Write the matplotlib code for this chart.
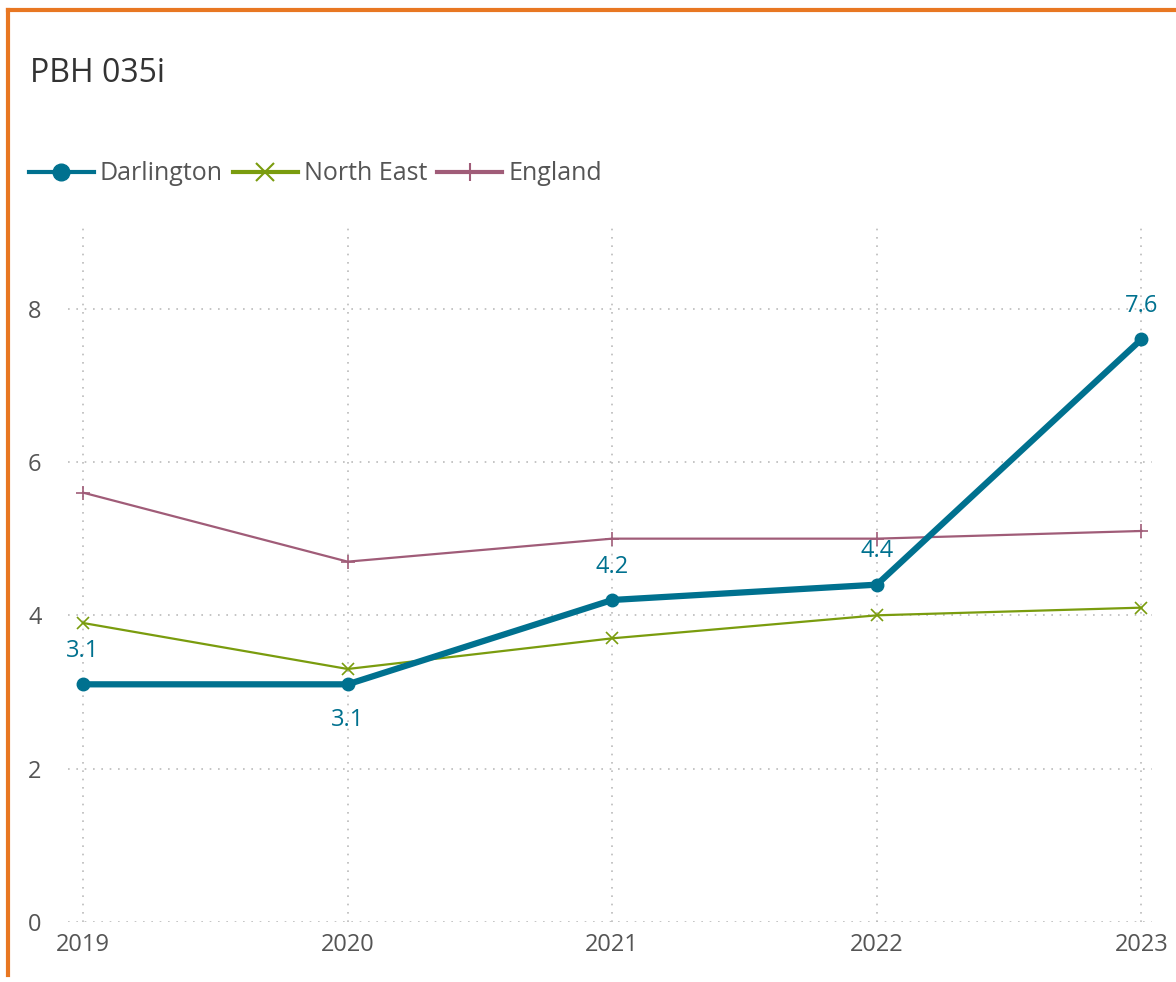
import matplotlib.pyplot as plt
from matplotlib.lines import Line2D

plt.rcParams['font.family'] = ['Open Sans', 'DejaVu Sans']

years = ['2019', '2020', '2021', '2022', '2023']
darlington = [3.1, 3.1, 4.2, 4.4, 7.6]
north_east = [3.9, 3.3, 3.7, 4.0, 4.1]
england = [5.6, 4.7, 5.0, 5.0, 5.1]

c_darl = '#00718F'
c_ne = '#7A9C0E'
c_eng = '#A05C78'
c_txt = '#555555'

fig = plt.figure(figsize=(11.76, 9.82), dpi=100)
W, H = 1176, 982
ax = fig.add_axes([68 / W, 1 - 922 / H, (1152 - 68) / W, (922 - 222) / H])

x = list(range(len(years)))
ax.plot(x, england, color=c_eng, lw=1.6, marker='+', ms=10, mew=1.2, zorder=3)
ax.plot(x, north_east, color=c_ne, lw=1.6, marker='x', ms=9, mew=1.2, zorder=3)
ax.plot(x, darlington, color=c_darl, lw=4.5, marker='o', ms=9, zorder=4)

for i, v in enumerate(darlington):
    if i == 1:
        ax.annotate(f'{v:.1f}', (i, v), xytext=(0, -26), textcoords='offset points',
                    ha='center', va='center', color=c_darl, fontsize=17)
    else:
        ax.annotate(f'{v:.1f}', (i, v), xytext=(0, 24), textcoords='offset points',
                    ha='center', va='center', color=c_darl, fontsize=17)

ax.set_xlim(-0.057, 4.04)
ax.set_ylim(0, 9.13)
ax.set_xticks(x)
ax.set_xticklabels(years)
ax.set_yticks([0, 2, 4, 6, 8])
ax.tick_params(length=0, labelsize=17, colors=c_txt)
ax.tick_params(axis='x', pad=8)
ax.tick_params(axis='y', pad=19)
ax.grid(True, color='#bbbbbb', linestyle=(0, (1, 4)), lw=1.2)
for s in ax.spines.values():
    s.set_visible(False)

fig.text(30 / W, 1 - 74 / H, 'PBH 035i', fontsize=23, color='#333333', va='center')

handles = [
    Line2D([0], [0], color=c_darl, lw=3, marker='o', ms=12),
    Line2D([0], [0], color=c_ne, lw=3, marker='x', ms=13, mew=1.5),
    Line2D([0], [0], color=c_eng, lw=3, marker='+', ms=13, mew=1.5),
]
fig.legend(handles, ['Darlington', 'North East', 'England'], loc='center left',
           bbox_to_anchor=(6 / W, 1 - 174 / H), ncol=3, frameon=False,
           fontsize=18, labelcolor=c_txt, handlelength=2.6, handletextpad=0.25,
           columnspacing=0.4)

# orange frame (top and left edges visible)
fig.add_artist(Line2D([8 / W, 1], [1 - 10 / H, 1 - 10 / H], color='#E87722', lw=3))
fig.add_artist(Line2D([8 / W, 8 / W], [1 - 10 / H, 1 - 975 / H], color='#E87722', lw=3))

fig.savefig('out.png', dpi=100)
